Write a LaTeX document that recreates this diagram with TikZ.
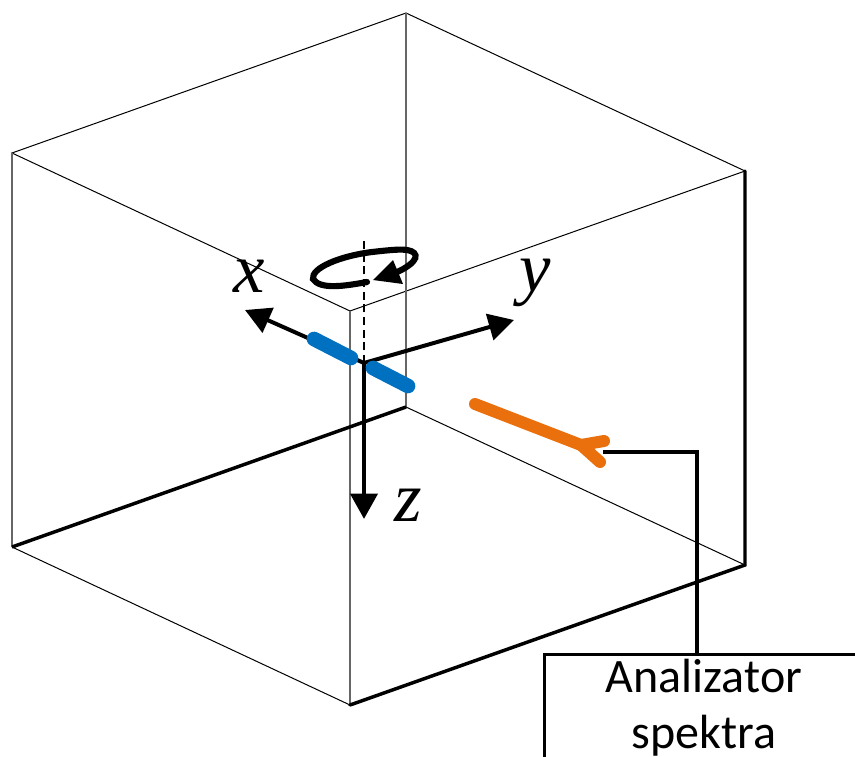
\documentclass[tikz,border=0pt]{standalone}
\usepackage{fontspec}
\setmainfont{Carlito}
\newfontfamily\labelserif{Liberation Serif}
\usetikzlibrary{arrows.meta}
\definecolor{bluebar}{RGB}{0,112,192}
\definecolor{orangebar}{RGB}{234,112,13}
\tikzset{
  thinedge/.style={line width=0.75pt,black},
  grayedge/.style={line width=0.85pt,black!60},
  thickedge/.style={line width=2.6pt,black},
  axisarrow/.style={line width=3pt,black,-{Triangle[length=19pt,width=20pt]}},
  bluerod/.style={line width=11pt,bluebar,line cap=round},
  orangerod/.style={line width=9pt,orangebar,line cap=round},
  axislabel/.style={font=\labelserif\itshape\fontsize{53}{53}\selectfont,inner sep=0pt,anchor=base},
  wire/.style={line width=2.5pt,black},
  boxtext/.style={font=\fontsize{36}{42}\selectfont,align=center,inner sep=0pt,anchor=base},
}
\begin{document}
\begin{tikzpicture}[x=0.75pt,y=-0.75pt]
\useasboundingbox (0,0) rectangle (855,756);
\clip (0,0) rectangle (855,756);
% cube
\coordinate (tb) at (406,13);
\coordinate (tl) at (12,153);
\coordinate (tr) at (745,171);
\coordinate (tf) at (350,311);
\coordinate (bb) at (406,407);
\coordinate (bl) at (12,547);
\coordinate (br) at (745,565);
\coordinate (bf) at (350,705);
\draw[thinedge] (tl) -- (tb) -- (tr) -- (tf) -- cycle;
\draw[grayedge] (tl) -- (bl);
\draw[grayedge] (tb) -- (bb);
\draw[grayedge] (tf) -- (bf);
\draw[thinedge] (bl) -- (bf);
\draw[thinedge] (bb) -- (br);
\draw[thickedge] (bl) -- (bb);
\draw[thickedge,line cap=round] (bf) -- (br) -- (tr);
% axes
\coordinate (o) at (364,363);
\coordinate (xt) at (245,310);
\coordinate (yt) at (514,320);
\coordinate (zt) at (364,519);
\coordinate (dt) at (364,238);
\draw[line width=1.5pt,dash pattern=on 6pt off 3.5pt] (o) -- (dt);
\draw[axisarrow] (o) -- (xt);
\draw[axisarrow] (o) -- (yt);
\draw[axisarrow,line width=3.7pt] (o) -- (zt);
% rods
\coordinate (b1) at (314,339);
\coordinate (b2) at (351,358);
\coordinate (b3) at (373,368);
\coordinate (b4) at (408,386);
\draw[bluerod] (b1) -- (b2);
\draw[bluerod] (b3) -- (b4);
% rotation
\coordinate (r0) at (367,282);
\coordinate (r1) at (313,279);
\coordinate (r2) at (407,250);
\coordinate (r3) at (395,273);
\draw[line width=4.6pt,black,line cap=round]
  (r0) .. controls (345,286) and (320,290) .. (r1)
  .. controls (311,268) and (340,256) .. (372,252)
  .. controls (390,250) and (400,249) .. (r2)
  .. controls (420,252) and (420,262) .. (r3);
\coordinate (a1) at (373,280);
\coordinate (a2) at (403,284);
\coordinate (a3) at (393,260);
\fill[black] (a1) -- (a2) -- (a3) -- cycle;
% labels
\node[axislabel] (lx) at (249,292) {x};
\node[axislabel] (ly) at (535,291) {y};
\node[axislabel] (lz) at (408,521) {z};
% probe
\coordinate (p1) at (475,404);
\coordinate (p2) at (581,445);
\coordinate (p3) at (604,441);
\coordinate (p4) at (600,462);
\draw[orangerod] (p1) -- (p2) -- (p3);
\draw[orangerod] (p2) -- (p4);
% analyser
\node[draw,line width=2.5pt,minimum width=330*0.75pt,minimum height=150*0.75pt,anchor=north west,inner sep=0pt] (box) at (543,653) {};
\node[boxtext] (t1) at (704,692) {Analizator};
\node[boxtext] (t2) at (704,748) {spektra};
\coordinate (w0) at (603,452);
\draw[wire,line join=miter] (w0) -- (697,452) -- (697,653);
\end{tikzpicture}
\end{document}
